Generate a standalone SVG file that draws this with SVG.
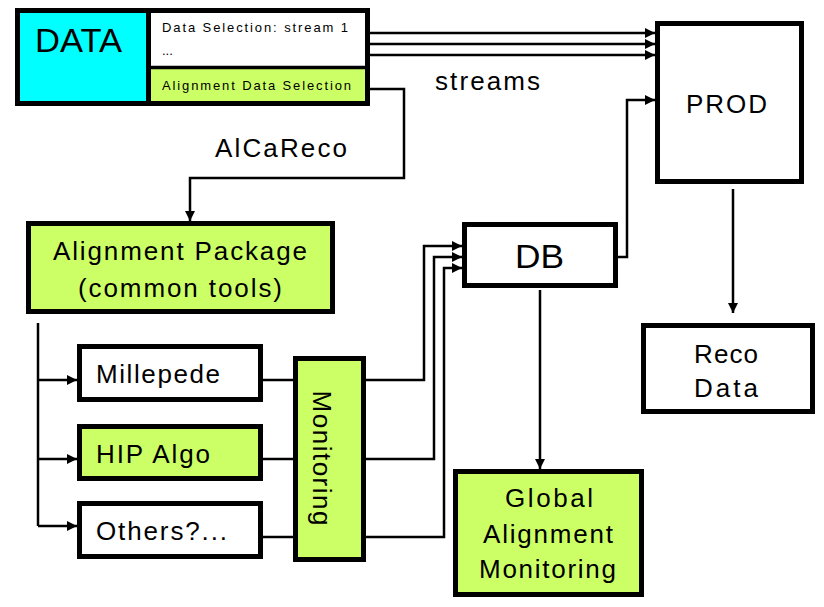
<svg xmlns="http://www.w3.org/2000/svg" width="824" height="607" viewBox="0 0 824 607">
<defs>
<marker id="ah" markerUnits="userSpaceOnUse" markerWidth="10" markerHeight="10" refX="10" refY="5" orient="auto">
<path d="M0,0 L10,5 L0,10 z" fill="#000"/>
</marker>
<style>
.box{stroke:#000;stroke-width:5}
.w{fill:#fff}
.g{fill:#ccff66}
.c{fill:#00ffff}
.t{font-family:"Liberation Sans",Arial,sans-serif;fill:#000}
.big{font-size:26px}
.sm{font-size:13px}
.ln{fill:none;stroke:#000;stroke-width:2.5}
</style>
</defs>
<rect width="824" height="607" fill="#fff"/>

<g id="connectors">
<path class="ln" d="M370,33 H655" stroke-width="3" marker-end="url(#ah)"/>
<path class="ln" d="M370,44 H655" stroke-width="3" marker-end="url(#ah)"/>
<path class="ln" d="M370,55 H655" stroke-width="3" marker-end="url(#ah)"/>
<path class="ln" d="M370,89 H404 V178 H190 V221" marker-end="url(#ah)"/>
<path class="ln" d="M38,323 V526"/>
<path class="ln" d="M38,380 H77" marker-end="url(#ah)"/>
<path class="ln" d="M38,459 H77" marker-end="url(#ah)"/>
<path class="ln" d="M38,526 H77" marker-end="url(#ah)"/>
<path class="ln" d="M263,380 H293"/>
<path class="ln" d="M263,459 H293"/>
<path class="ln" d="M263,537 H293"/>
<path class="ln" d="M366,380 H424 V246 H462" marker-end="url(#ah)"/>
<path class="ln" d="M366,459 H434 V257 H462" marker-end="url(#ah)"/>
<path class="ln" d="M366,537 H444 V268 H462" marker-end="url(#ah)"/>
<path class="ln" d="M618,257 H627 V100 H655" marker-end="url(#ah)"/>
<path class="ln" d="M733,189 V313" stroke-width="2" marker-end="url(#ah)"/>
<path class="ln" d="M540,290 V469" stroke-width="2" marker-end="url(#ah)"/>
<text class="t big" x="435" y="90" textLength="105" lengthAdjust="spacing">streams</text>
<text class="t big" x="215" y="157" textLength="132" lengthAdjust="spacing">AlCaReco</text>
</g>

<g id="data">
<rect class="box c" x="17.5" y="10.5" width="350" height="93"/>
<rect x="151" y="13" width="214" height="53" fill="#fff"/>
<rect x="151" y="69" width="214" height="32" fill="#ccff66"/>
<path d="M148.5,10 V104" stroke="#000" stroke-width="5" fill="none"/>
<path d="M149,67.5 H367" stroke="#000" stroke-width="3.5" fill="none"/>
<text class="t" x="35" y="52" font-size="33" textLength="87" lengthAdjust="spacingAndGlyphs">DATA</text>
<text class="t sm" x="162" y="32" textLength="186" lengthAdjust="spacing">Data Selection: stream 1</text>
<text class="t sm" x="162" y="55">...</text>
<text class="t sm" x="162" y="90" textLength="189" lengthAdjust="spacing">Alignment Data Selection</text>
</g>

<g id="prod">
<rect class="box w" x="657.5" y="23.5" width="144" height="158"/>
<text class="t" x="686" y="113" font-size="26" textLength="81" lengthAdjust="spacing">PROD</text>
</g>

<g id="reco">
<rect class="box w" x="643.5" y="325.5" width="169" height="86"/>
<text class="t big" x="694" y="363" textLength="64" lengthAdjust="spacing">Reco</text>
<text class="t big" x="694" y="397" textLength="64" lengthAdjust="spacing">Data</text>
</g>

<g id="db">
<rect class="box w" x="464.5" y="224.5" width="151" height="61"/>
<text class="t" x="515" y="268" font-size="34" textLength="49" lengthAdjust="spacingAndGlyphs">DB</text>
</g>

<g id="alignment-package">
<rect class="box g" x="28.5" y="223.5" width="304" height="88"/>
<text class="t big" x="53" y="260" textLength="254" lengthAdjust="spacing">Alignment Package</text>
<text class="t big" x="78" y="297" textLength="204" lengthAdjust="spacing">(common tools)</text>
</g>

<g id="millepede">
<rect class="box w" x="79.5" y="346.5" width="181" height="53"/>
<text class="t big" x="96" y="383" textLength="124" lengthAdjust="spacing">Millepede</text>
</g>

<g id="hip-algo">
<rect class="box g" x="79.5" y="426.5" width="181" height="52"/>
<text class="t big" x="96" y="463" textLength="114" lengthAdjust="spacing">HIP Algo</text>
</g>

<g id="others">
<rect class="box w" x="79.5" y="503.5" width="181" height="53"/>
<text class="t big" x="96" y="540" textLength="131" lengthAdjust="spacing">Others?...</text>
</g>

<g id="monitoring">
<rect class="box g" x="295.5" y="358.5" width="68" height="201"/>
<text class="t big" transform="translate(313,458) rotate(90)" x="0" y="0" text-anchor="middle" textLength="135" lengthAdjust="spacing">Monitoring</text>
</g>

<g id="global-alignment-monitoring">
<rect class="box g" x="455.5" y="471.5" width="186" height="123"/>
<text class="t big" x="505" y="507" textLength="88" lengthAdjust="spacing">Global</text>
<text class="t big" x="483" y="543" textLength="130" lengthAdjust="spacing">Alignment</text>
<text class="t big" x="479" y="578" textLength="137" lengthAdjust="spacing">Monitoring</text>
</g>
</svg>
